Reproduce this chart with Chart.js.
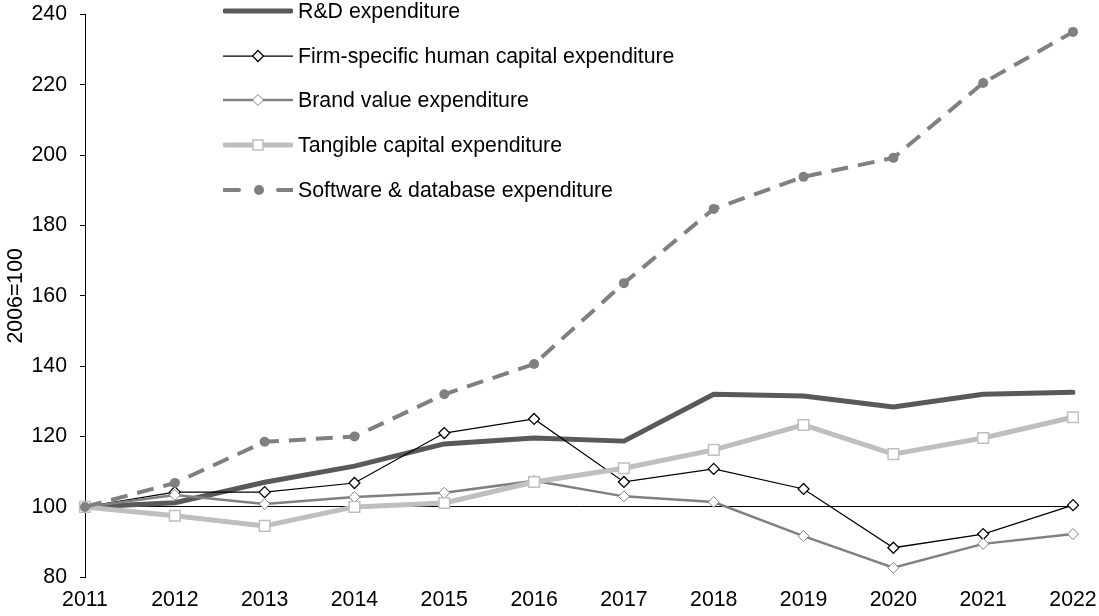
<!DOCTYPE html>
<html>
<head>
<meta charset="utf-8">
<script src="https://cdn.jsdelivr.net/npm/chart.js@4.4.1/dist/chart.umd.min.js"></script>
<style>
body{margin:0;background:#fff;}
#wrap{position:relative;width:1099px;height:616px;}
#legend{position:absolute;left:0;top:0;font-family:'Liberation Sans',Arial,sans-serif;font-size:21.3px;color:#000;}
.row{position:absolute;left:223px;height:24px;line-height:24px;display:flex;align-items:center;white-space:nowrap;}
.row svg{width:70px;height:24px;margin-right:5px;flex:none;}
</style>
</head>
<body>
<div id="wrap">
<canvas id="chartCanvas" width="1099" height="616"></canvas>
<div id="legend"></div>
</div>
<script>
const years = ['2011','2012','2013','2014','2015','2016','2017','2018','2019','2020','2021','2022'];
const rdExp = [100, 101.2, 107, 111.6, 117.9, 119.6, 118.7, 132, 131.5, 128.4, 132, 132.6];
const firmExp = [100, 104.2, 104.2, 106.8, 121, 125, 107.1, 110.8, 105.1, 88.4, 92.3, 100.5];
const brandExp = [100, 103.4, 100.8, 102.8, 104, 107.4, 103, 101.4, 91.7, 82.7, 89.5, 92.3];
const tangibleExp = [100, 97.5, 94.6, 100, 101.1, 107.1, 111, 116.2, 123.3, 115, 119.6, 125.5];
const softwareExp = [100, 106.8, 118.5, 120, 132, 140.6, 163.6, 184.7, 193.8, 199.2, 220.5, 235];
const seriesNames = ['R&D expenditure','Firm-specific human capital expenditure','Brand value expenditure','Tangible capital expenditure','Software & database expenditure'];
const yTitle = '2006=100';

Chart.defaults.font.family = "'Liberation Sans', Arial, sans-serif";
Chart.defaults.font.size = 21.3;
Chart.defaults.color = '#000';

const ctx = document.getElementById('chartCanvas').getContext('2d');
const chart = new Chart(ctx, {
    type: 'line',
    data: {
        labels: years,
        datasets: [
            { label: seriesNames[0], data: rdExp, borderColor: '#595959', borderWidth: 5, pointRadius: 0, order: 5, borderCapStyle: 'round', borderJoinStyle: 'round' },
            { label: seriesNames[1], data: firmExp, borderColor: '#000', borderWidth: 1.25, pointStyle: 'rectRot', pointRadius: 5.5, pointBackgroundColor: '#fff', pointBorderColor: '#000', pointBorderWidth: 1.25, order: 4 },
            { label: seriesNames[2], data: brandExp, borderColor: '#808080', borderWidth: 2.5, pointStyle: 'rectRot', pointRadius: 5.5, pointBackgroundColor: '#fff', pointBorderColor: '#808080', pointBorderWidth: 1, order: 3 },
            { label: seriesNames[3], data: tangibleExp, borderColor: '#bfbfbf', borderWidth: 5, pointStyle: 'rect', pointRadius: 7.5, pointBackgroundColor: '#fff', pointBorderColor: '#bfbfbf', pointBorderWidth: 1.5, order: 2, borderJoinStyle: 'round' },
            { label: seriesNames[4], data: softwareExp, borderColor: '#808080', borderWidth: 4, borderDash: [17, 10], pointStyle: 'circle', pointRadius: 5, pointBackgroundColor: '#808080', pointBorderColor: '#808080', pointBorderWidth: 0, order: 1 }
        ]
    },
    options: {
        responsive: false,
        animation: false,
        layout: { padding: { top: 14.3, right: 26, left: 0, bottom: 0 } },
        plugins: { legend: { display: false }, tooltip: { enabled: false } },
        scales: {
            x: {
                offset: false,
                grid: { display: false, drawTicks: false },
                border: { display: false },
                ticks: { padding: 10, maxRotation: 0, autoSkip: false },
                afterFit: s => { s.height = 38.7; s.paddingLeft = 0; s.paddingRight = 0; }
            },
            y: {
                min: 80, max: 240,
                ticks: { stepSize: 20, padding: 13 },
                grid: {
                    color: c => (c.tick && c.tick.value === 100) ? '#000' : 'rgba(0,0,0,0)',
                    tickColor: '#000', tickLength: 5, lineWidth: 1
                },
                border: { display: true, color: '#000', width: 1 },
                title: { display: true, text: yTitle, padding: { top: 3, bottom: 0 } },
                afterFit: s => { s.width = 85; s.paddingTop = 0; s.paddingBottom = 0; }
            }
        }
    }
});

// legend drawn as html rows
const legendRows = [
    { y: 11, svg: '<line x1="2" y1="12" x2="68" y2="12" stroke="#595959" stroke-width="5" stroke-linecap="round"/>' },
    { y: 56, svg: '<line x1="0" y1="12" x2="70" y2="12" stroke="#000" stroke-width="1.25"/><polygon points="35,6.5 40.5,12 35,17.5 29.5,12" fill="#fff" stroke="#000" stroke-width="1.25"/>' },
    { y: 100, svg: '<line x1="0" y1="12" x2="70" y2="12" stroke="#808080" stroke-width="2.5"/><polygon points="35,6.5 40.5,12 35,17.5 29.5,12" fill="#fff" stroke="#808080" stroke-width="1"/>' },
    { y: 145, svg: '<line x1="2" y1="12" x2="68" y2="12" stroke="#bfbfbf" stroke-width="5" stroke-linecap="round"/><rect x="30" y="7" width="10" height="10" fill="#fff" stroke="#bfbfbf" stroke-width="1.5"/>' },
    { y: 190, svg: '<line x1="1" y1="12" x2="16" y2="12" stroke="#808080" stroke-width="4" stroke-linecap="round"/><circle cx="36" cy="12" r="5" fill="#808080"/><line x1="55" y1="12" x2="69" y2="12" stroke="#808080" stroke-width="4" stroke-linecap="round"/>' }
];
const legend = document.getElementById('legend');
legendRows.forEach((r, i) => {
    const row = document.createElement('div');
    row.className = 'row';
    row.style.top = (r.y - 12) + 'px';
    row.innerHTML = '<svg viewBox="0 0 70 24">' + r.svg + '</svg>';
    const span = document.createElement('span');
    span.textContent = seriesNames[i];
    row.appendChild(span);
    legend.appendChild(row);
});
</script>
</body>
</html>
